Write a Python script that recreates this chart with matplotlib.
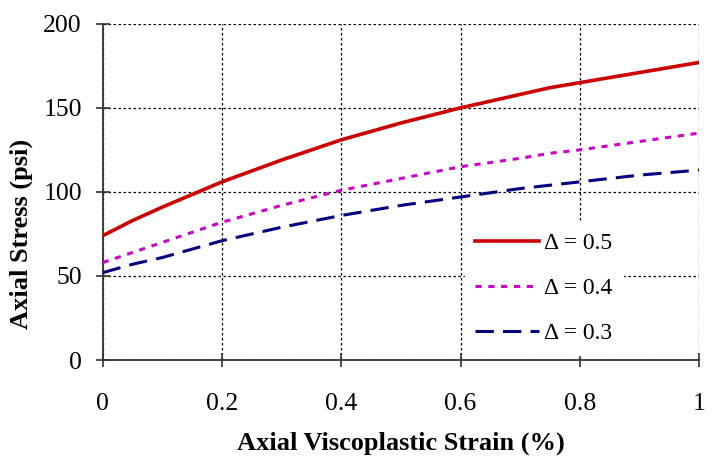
import numpy as np
import matplotlib
matplotlib.use('Agg')
import matplotlib.pyplot as plt

strain = [0, 0.05, 0.1, 0.2, 0.3, 0.4, 0.5, 0.6, 0.7, 0.75, 0.8, 0.9, 1.0]
stress_05 = [74, 83, 91, 106, 119, 131, 141, 150, 158, 162, 165, 171, 177]
stress_04 = [58, 64, 70, 82, 92, 101, 108, 115, 120, 123, 125, 130, 135]
stress_03 = [52, 57, 61, 71, 79, 86, 92, 97, 102, 104, 106, 110, 113]
labels = ['Δ = 0.5', 'Δ = 0.4', 'Δ = 0.3']

plt.rcParams['font.family'] = ['Liberation Serif', 'DejaVu Serif']

fig = plt.figure(figsize=(7.14, 4.67), dpi=100)
ax = fig.add_axes([0.144, 0.229, 0.835, 0.72])

ax.plot(strain, stress_05, color='#cc0000', lw=2.6, label=labels[0], zorder=3)
ax.plot(strain, stress_04, color='#cc00cc', lw=2.2, ls=(0, (2, 2.2)), label=labels[1], zorder=3)
ax.plot(strain, stress_03, color='#000080', lw=2.2, ls=(0, (6, 3)), label=labels[2], zorder=3)

ax.set_xlim(0, 1)
ax.set_ylim(0, 200)
ax.set_xticks([0, 0.2, 0.4, 0.6, 0.8, 1])
ax.set_xticklabels(['0', '0.2', '0.4', '0.6', '0.8', '1'])
ax.set_yticks([0, 50, 100, 150, 200])

ax.grid(True, color='black', ls=(0, (2, 2)), lw=0.9)
for s in ['top', 'right']:
    ax.spines[s].set_visible(False)
for s in ['left', 'bottom']:
    ax.spines[s].set_color('#333333')
    ax.spines[s].set_linewidth(1.3)
ax.tick_params(direction='inout', length=10, width=1.2, color='#333333',
               labelsize=18.5, pad=10)
ax.tick_params(axis='x', pad=19)

ax.set_xlabel('Axial Viscoplastic Strain (%)', fontsize=19, fontweight='bold', labelpad=12)
ax.set_ylabel('Axial Stress (psi)', fontsize=19, fontweight='bold')
ax.yaxis.set_label_coords(-0.117, 0.375)

leg = ax.legend(loc='lower right', bbox_to_anchor=(0.872, 0.015), frameon=True,
                fontsize=17, handlelength=2.7, labelspacing=1.0, handletextpad=0.2,
                borderpad=0.45, borderaxespad=0, fancybox=False)
leg.get_frame().set_edgecolor('white')
leg.get_frame().set_facecolor('white')
leg.get_frame().set_alpha(1)

fig.savefig('out.png', dpi=100)
